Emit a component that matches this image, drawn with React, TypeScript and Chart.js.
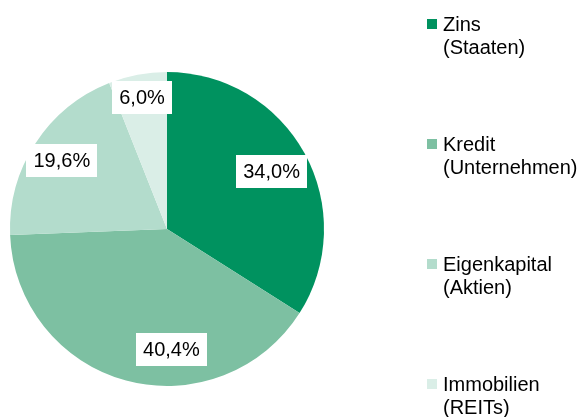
import React, { useEffect, useRef } from "react";
import { Chart, registerables } from "chart.js";

Chart.register(...registerables);

const categories = ["Zins\n(Staaten)", "Kredit\n(Unternehmen)", "Eigenkapital\n(Aktien)", "Immobilien\n(REITs)"];
const values = [34.0, 40.4, 19.6, 6.0];
const valueLabels = ["34,0%", "40,4%", "19,6%", "6,0%"];
const colors = ["#00925F", "#7DC0A2", "#B3DCCC", "#DAEEE7"];
const labelAngleShift = [0, -0.30, 0, 0];
const labelRadius = [0.76, 0.77, 0.8, 0.85];

const FONT = "'Liberation Sans', Arial, sans-serif";

const labelPlugin = {
  id: "valueLabels",
  afterDatasetsDraw(chart: any) {
    const ctx = chart.ctx;
    const meta = chart.getDatasetMeta(0);
    ctx.save();
    ctx.font = `20px ${FONT}`;
    ctx.textAlign = "center";
    ctx.textBaseline = "middle";
    meta.data.forEach((arc: any, i: number) => {
      const { x, y, startAngle, endAngle, outerRadius } = arc.getProps(["x", "y", "startAngle", "endAngle", "outerRadius"], true);
      const mid = (startAngle + endAngle) / 2 + labelAngleShift[i];
      const r = outerRadius * labelRadius[i];
      const lx = x + Math.cos(mid) * r;
      const ly = y + Math.sin(mid) * r;
      const text = valueLabels[i];
      const w = ctx.measureText(text).width + 14;
      const h = 33;
      ctx.fillStyle = "#FFFFFF";
      ctx.fillRect(Math.round(lx - w / 2), Math.round(ly - h / 2), Math.round(w), h);
      ctx.fillStyle = "#000000";
      ctx.fillText(text, lx, ly + 1);
    });
    ctx.restore();
  },
};

const legendPlugin = {
  id: "customLegend",
  afterDraw(chart: any) {
    const ctx = chart.ctx;
    const area = chart.chartArea;
    ctx.save();
    ctx.font = `20px ${FONT}`;
    ctx.textAlign = "left";
    ctx.textBaseline = "middle";
    const x0 = area.right + 103;
    categories.forEach((label, i) => {
      const cy = 24 + i * 120;
      ctx.fillStyle = colors[i];
      ctx.fillRect(x0, cy - 5, 10, 10);
      ctx.fillStyle = "#000000";
      label.split("\n").forEach((line, j) => {
        ctx.fillText(line, x0 + 16, cy + 1 + j * 23);
      });
    });
    ctx.restore();
  },
};

export default function App() {
  const ref = useRef<HTMLCanvasElement>(null);
  useEffect(() => {
    if (!ref.current) return;
    const chart = new Chart(ref.current, {
      type: "pie",
      data: {
        labels: categories,
        datasets: [
          {
            data: values,
            backgroundColor: colors,
            borderWidth: 0,
          },
        ],
      },
      options: {
        responsive: false,
        animation: false,
        layout: { padding: { left: 10, top: 72, right: 258, bottom: 31 } },
        plugins: {
          legend: { display: false },
          tooltip: { enabled: false },
        },
      },
      plugins: [labelPlugin, legendPlugin],
    });
    return () => chart.destroy();
  }, []);
  return (
    <div style={{ position: "fixed", left: 0, top: 0, width: 582, height: 417, background: "#fff" }}>
      <canvas ref={ref} width={582} height={417} />
    </div>
  );
}
